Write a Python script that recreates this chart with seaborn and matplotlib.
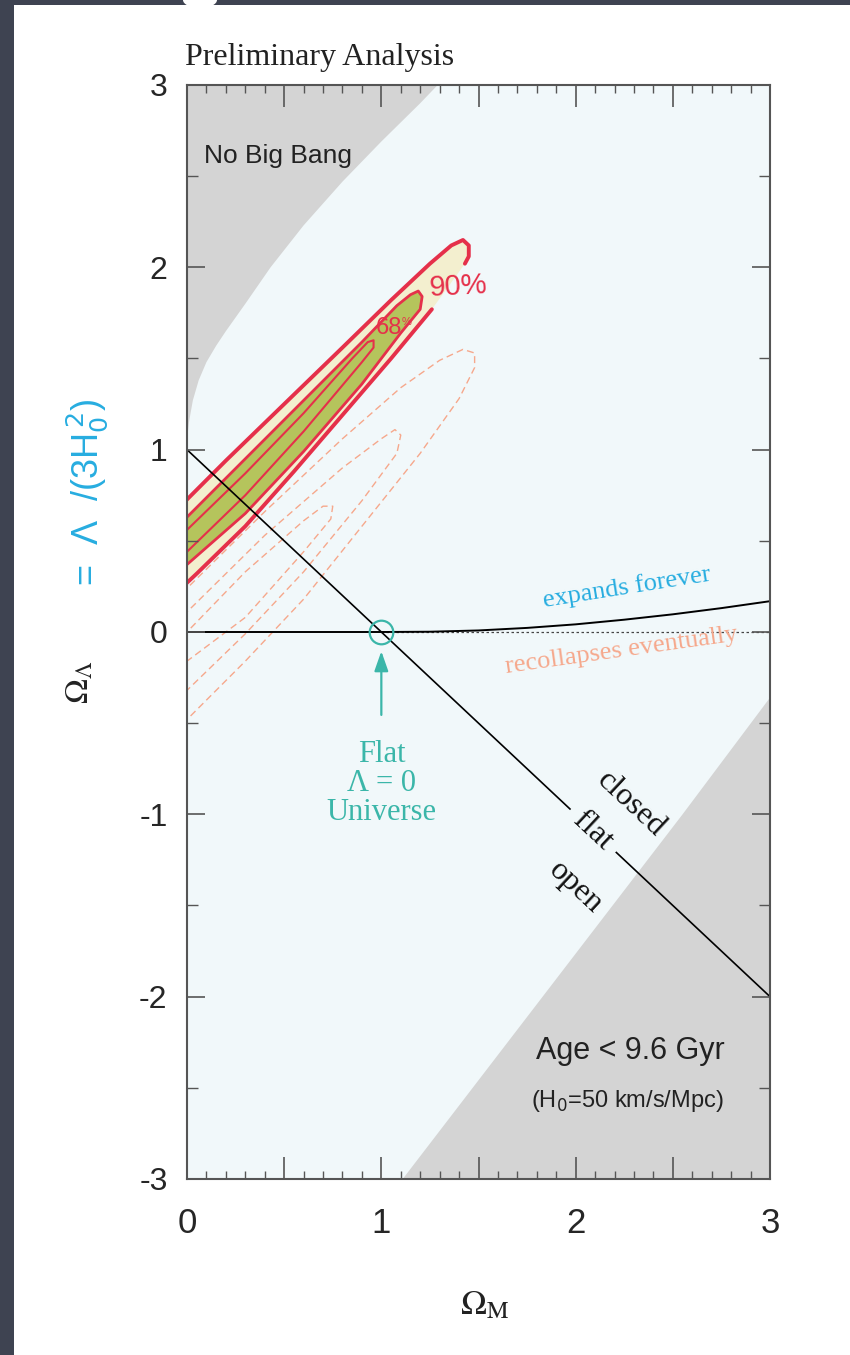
import numpy as np
import pandas as pd
import matplotlib
matplotlib.use("Agg")
import matplotlib.pyplot as plt
import seaborn as sns
from matplotlib.patches import Rectangle, Ellipse
from matplotlib.ticker import MultipleLocator, FixedLocator, FuncFormatter

# ---------------- data ----------------
# "No Big Bang" boundary
nobb_om = [0.0, 0.01, 0.03, 0.06, 0.10, 0.15, 0.20, 0.30, 0.43, 0.60, 0.80, 1.00, 1.20, 1.29]
nobb_ol = [1.05, 1.15, 1.27, 1.38, 1.48, 1.57, 1.65, 1.80, 2.00, 2.23, 2.47, 2.69, 2.90, 3.00]
# "Age < 9.6 Gyr" boundary
age_om = [1.11, 1.83, 2.55, 3.00]
age_ol = [-3.00, -2.00, -1.00, -0.36]
# flat universe line
flat_om = [0.0, 3.0]
flat_ol = [1.0, -2.0]
# expand / recollapse boundary
exp_om = [0.0, 1.0, 1.25, 1.5, 1.75, 2.0, 2.25, 2.5, 2.75, 3.0]
exp_ol = [0.0, 0.0, 0.0015, 0.0085, 0.0225, 0.042, 0.0675, 0.097, 0.131, 0.169]
# Lambda = 0 reference (dotted)
lam0_om = [1.0, 3.0]
lam0_ol = [0.0, 0.0]

# 90% contour (outline, gap at the label)
c90_om = [1.26, 1.05, 0.80, 0.55, 0.30, 0.05, -0.10, -0.10, 0.20, 0.50, 0.80, 1.05, 1.25, 1.36, 1.42, 1.45, 1.45, 1.43]
c90_ol = [1.77, 1.50, 1.19, 0.88, 0.58, 0.32, 0.17, 0.62, 0.94, 1.25, 1.56, 1.82, 2.02, 2.12, 2.15, 2.12, 2.06, 2.02]
# 68% contour
c68_om = [-0.10, 0.0, 0.30, 0.60, 0.90, 1.08, 1.15, 1.19, 1.21, 1.20, 1.10, 0.90, 0.60, 0.30, 0.0, -0.10]
c68_ol = [0.53, 0.63, 0.95, 1.27, 1.59, 1.79, 1.85, 1.87, 1.84, 1.77, 1.64, 1.36, 0.99, 0.65, 0.37, 0.27]
# inner solid contour
cin_om = [-0.10, 0.0, 0.30, 0.60, 0.85, 0.93, 0.96, 0.96, 0.90, 0.60, 0.30, 0.0, -0.10]
cin_ol = [0.46, 0.56, 0.87, 1.20, 1.50, 1.59, 1.60, 1.56, 1.48, 1.10, 0.75, 0.44, 0.34]
# dashed contours (second data set)
d1_om = [-0.10, 0.0, 0.40, 0.80, 1.10, 1.30, 1.42, 1.48, 1.48, 1.40, 1.20, 0.90, 0.60, 0.30, 0.0, -0.10]
d1_ol = [0.12, 0.24, 0.66, 1.06, 1.34, 1.49, 1.55, 1.53, 1.45, 1.28, 0.98, 0.58, 0.18, -0.16, -0.48, -0.58]
d2_om = [-0.10, 0.0, 0.40, 0.80, 1.00, 1.07, 1.10, 1.08, 0.90, 0.60, 0.30, 0.0, -0.10]
d2_ol = [0.00, 0.11, 0.53, 0.90, 1.06, 1.11, 1.08, 0.98, 0.72, 0.33, -0.01, -0.32, -0.42]
d3_om = [-0.10, 0.0, 0.30, 0.60, 0.70, 0.75, 0.74, 0.60, 0.30, 0.0, -0.10]
d3_ol = [-0.11, 0.00, 0.33, 0.61, 0.69, 0.69, 0.62, 0.44, 0.08, -0.16, -0.26]

x_ticks = [0, 1, 2, 3]
y_ticks = [-3, -2, -1, 0, 1, 2, 3]

# ---------------- style ----------------
sns.set_theme(style="ticks")
plt.rcParams["font.family"] = ["Liberation Sans", "DejaVu Sans"]

C_BG = "#f1f8fa"
C_GREY = "#d4d4d4"
C_RED = "#e5304a"
C_BEIGE = "#f3efcf"
C_GREEN = "#b5c45c"
C_SALMON = "#f6a88c"
C_CYAN = "#27ade0"
C_TEAL = "#3bb6a9"
SERIF = ["Liberation Serif", "DejaVu Serif"]

fig = plt.figure(figsize=(8.5, 13.55), dpi=100, facecolor="#3e4351")
bg = fig.add_axes([14 / 850, 0, 1 - 14 / 850, 1 - 5 / 1355], zorder=-5)
bg.set_axis_off()
bg.add_patch(Rectangle((0, 0), 1, 1, transform=bg.transAxes, facecolor="white", edgecolor="none"))
fig.patches.append(Ellipse((200 / 850, 1.0), 34 / 850, 16 / 1355, transform=fig.transFigure,
                           facecolor="white", edgecolor="none", zorder=-4))

ax = fig.add_axes([0.2200, 0.12989, 0.6859, 0.80738], zorder=1)
ax.set_facecolor(C_BG)
ax.set_xlim(0, 3)
ax.set_ylim(-3, 3)

# grey regions
ax.fill(nobb_om + [-0.2, -0.2], nobb_ol + [3.2, 1.05], color=C_GREY, lw=0, zorder=1)
ax.fill(age_om + [3.2, 3.2], age_ol + [-0.36, -3.2], color=C_GREY, lw=0, zorder=1)

# dashed contours
for om, ol in [(d1_om, d1_ol), (d2_om, d2_ol), (d3_om, d3_ol)]:
    sns.lineplot(x=om, y=ol, sort=False, estimator=None, ax=ax, color=C_SALMON,
                 lw=1.0, linestyle=(0, (5, 3)), zorder=2)

# filled confidence regions
ax.fill(c90_om, c90_ol, color=C_BEIGE, lw=0, zorder=3)
ax.fill(c68_om, c68_ol, color=C_GREEN, lw=0, zorder=4)
sns.lineplot(x=c90_om, y=c90_ol, sort=False, estimator=None, ax=ax, color=C_RED, lw=2.8, zorder=5)
sns.lineplot(x=c68_om, y=c68_ol, sort=False, estimator=None, ax=ax, color=C_RED, lw=2.0, zorder=5)
sns.lineplot(x=cin_om, y=cin_ol, sort=False, estimator=None, ax=ax, color=C_RED, lw=1.5, zorder=5)

# lines
sns.lineplot(x=lam0_om, y=lam0_ol, ax=ax, color="#444444", lw=0.9, linestyle=(0, (2, 2)), zorder=6)
sns.lineplot(x=exp_om, y=exp_ol, sort=False, estimator=None, ax=ax, color="black", lw=1.4, zorder=6)
sns.lineplot(x=flat_om, y=flat_ol, ax=ax, color="black", lw=1.2, zorder=6)

# flat Lambda=0 marker
ax.plot([1.0], [0.0], marker="o", ms=17, mfc="none", mec=C_TEAL, mew=1.6, zorder=7)
ax.annotate("", xy=(1.0, -0.09), xytext=(1.0, -0.47),
            arrowprops=dict(arrowstyle="-|>,head_length=1.0,head_width=0.35", color=C_TEAL, lw=1.6),
            zorder=7)
ax.text(1.0, -0.83, "Flat\nΛ = 0\nUniverse", ha="center", va="center", color=C_TEAL,
        fontsize=22, family=SERIF, linespacing=1.0, zorder=7)

# annotations
ax.text(0.47, 2.61, "No Big Bang", ha="center", va="center", fontsize=19, color="#222222", zorder=7)
ax.text(2.28, -2.30, "Age < 9.6 Gyr", ha="center", va="center", fontsize=22, color="#222222", zorder=7)
ax.text(2.265, -2.57, "(H$_0$=50 km/s/Mpc)", ha="center", va="center", fontsize=17,
        color="#222222", math_fontfamily="dejavusans", zorder=7)
ax.text(1.395, 1.895, "90%", ha="center", va="center", fontsize=21, color=C_RED, rotation=3, zorder=8)
ax.text(1.04, 1.67, "68", ha="center", va="center", fontsize=17, color=C_RED, zorder=8)
ax.text(1.13, 1.70, "%", ha="center", va="center", fontsize=8, color=C_RED, zorder=8)
ax.text(2.265, 0.242, "expands forever", ha="center", va="center", fontsize=19, color=C_CYAN,
        family=SERIF, rotation=9, zorder=8)
ax.text(2.234, -0.104, "recollapses eventually", ha="center", va="center", fontsize=19,
        color=C_SALMON, family=SERIF, rotation=8, zorder=8)
ax.text(2.285, -0.945, "closed", ha="center", va="center", fontsize=23, color="#111111",
        family=SERIF, rotation=-43, rotation_mode="anchor", zorder=8)
ax.text(2.09, -1.09, "flat", ha="center", va="center", fontsize=23, color="#111111",
        family=SERIF, rotation=-43, rotation_mode="anchor", zorder=8,
        bbox=dict(boxstyle="square,pad=0.3", fc=C_BG, ec="none"))
ax.text(2.0, -1.40, "open", ha="center", va="center", fontsize=23, color="#111111",
        family=SERIF, rotation=-43, rotation_mode="anchor", zorder=8)

# axes / ticks
ax.xaxis.set_major_locator(MultipleLocator(0.5))
ax.xaxis.set_major_formatter(FuncFormatter(lambda v, p: str(int(round(v))) if int(round(v)) in x_ticks and abs(v - round(v)) < 1e-6 else ""))
ax.yaxis.set_major_locator(FixedLocator(y_ticks))
ax.yaxis.set_major_formatter(FuncFormatter(lambda v, p: str(int(round(v)))))
ax.xaxis.set_minor_locator(MultipleLocator(0.1))
ax.yaxis.set_minor_locator(MultipleLocator(0.5))
ax.tick_params(axis="both", which="both", direction="in", top=True, right=True, color="#555555")
ax.tick_params(axis="x", which="major", length=16, width=1.2, labelsize=25, pad=20)
ax.tick_params(axis="x", which="minor", length=6, width=1.0)
ax.tick_params(axis="y", which="major", length=13, width=1.2, labelsize=23, pad=14)
ax.tick_params(axis="y", which="minor", length=8, width=1.0)
ax.xaxis.set_zorder(9)
ax.yaxis.set_zorder(9)
for s in ax.spines.values():
    s.set_color("#555555")
    s.set_linewidth(1.5)
    s.set_zorder(10)
ax.set_xlabel("")
ax.set_ylabel("")

# axis titles
fig.text(485 / 850, 1 - 1305 / 1355, r"$\Omega_{\rm M}$", ha="center", va="center", fontsize=25,
         math_fontfamily="stix", color="#222222")
fig.text(80 / 850, 1 - 682 / 1355, r"$\Omega_\Lambda$", ha="center", va="center", fontsize=24,
         math_fontfamily="stix", rotation=90, color="#222222")
fig.text(87 / 850, 1 - 492 / 1355, "=  Λ  /(3H$_0^{\\,2}$)", ha="center", va="center", fontsize=26,
         math_fontfamily="dejavusans", rotation=90, color=C_CYAN)
fig.text(185 / 850, 1 - 57 / 1355, "Preliminary Analysis", ha="left", va="center", fontsize=23,
         family=SERIF, color="#222222")

fig.savefig("out.png", dpi=100, facecolor=fig.get_facecolor())
